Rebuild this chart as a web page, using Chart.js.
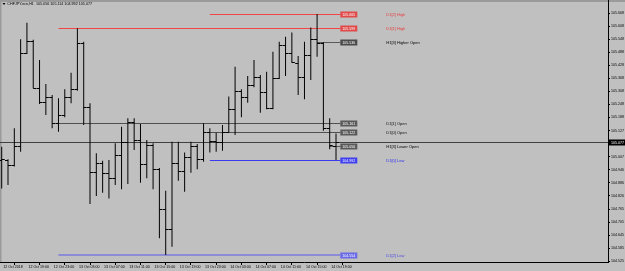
<!DOCTYPE html>
<html>
<head>
<meta charset="utf-8">
<script src="https://cdn.jsdelivr.net/npm/chart.js@4.4.0/dist/chart.umd.min.js"></script>
<style>
    html, body { margin: 0; padding: 0; background: #c0c0c0; overflow: hidden; }
</style>
</head>
<body>
<canvas id="chart" width="625" height="271"></canvas>
<script>
const title = "CHFJPY.ecn,H1  105.056 105.114 104.992 105.077";

// hourly bars, oldest first
const opens = [104.990, 104.992, 104.969, 105.056, 105.486, 105.542, 105.322, 105.261, 105.284, 105.161,
    105.199, 105.284, 105.318, 105.530, 105.235, 104.938, 104.977, 104.931, 104.908, 105.015,
    105.076, 105.168, 105.084, 104.973, 105.061, 104.949, 104.765, 104.672, 104.977, 104.943,
    105.007, 105.056, 104.995, 105.122, 105.081, 105.076, 105.122, 105.226, 105.311, 105.284,
    105.338, 105.376, 105.307, 105.230, 105.368, 105.522, 105.486, 105.440, 105.373, 105.476,
    105.548, 105.532, 105.138, 105.056];
const highs = [105.053, 104.995, 105.138, 105.548, 105.625, 105.546, 105.453, 105.342, 105.291, 105.276,
    105.318, 105.394, 105.599, 105.537, 105.253, 105.023, 104.989, 104.992, 105.069, 105.145,
    105.184, 105.184, 105.158, 105.084, 105.069, 104.955, 104.850, 105.076, 105.076, 105.026,
    105.076, 105.066, 105.161, 105.138, 105.118, 105.153, 105.284, 105.422, 105.318, 105.379,
    105.453, 105.384, 105.399, 105.491, 105.537, 105.560, 105.579, 105.471, 105.537, 105.603,
    105.665, 105.535, 105.184, 105.114];
const lows = [104.861, 104.877, 104.962, 105.030, 105.480, 105.322, 105.250, 105.199, 105.138, 105.122,
    105.189, 105.253, 105.311, 105.153, 104.789, 104.826, 104.841, 104.815, 104.877, 104.857,
    104.881, 105.038, 104.887, 104.908, 104.857, 104.631, 104.554, 104.592, 104.896, 104.846,
    104.933, 104.949, 104.984, 105.026, 105.030, 105.035, 105.118, 105.107, 105.189, 105.256,
    105.327, 105.210, 105.226, 105.226, 105.365, 105.379, 105.440, 105.291, 105.272, 105.361,
    105.468, 105.127, 105.041, 104.992];
const closes = [104.995, 104.969, 105.056, 105.486, 105.542, 105.326, 105.261, 105.284, 105.161, 105.199,
    105.284, 105.318, 105.530, 105.235, 104.938, 104.977, 104.931, 104.908, 105.015, 105.076,
    105.168, 105.084, 104.973, 105.061, 104.949, 104.765, 104.672, 104.977, 104.943, 105.007,
    105.056, 104.995, 105.122, 105.081, 105.076, 105.122, 105.226, 105.311, 105.284, 105.338,
    105.376, 105.307, 105.230, 105.368, 105.522, 105.486, 105.443, 105.373, 105.476, 105.548,
    105.532, 105.138, 105.061, 105.077];

// time axis: bar number -> label
const xTickBars = [1, 5, 9, 13, 17, 21, 25, 29, 33, 37, 41, 45, 49, 53];
const xTickLabels = ["12 Oct 2018", "12 Oct 19:00", "12 Oct 23:00", "13 Oct 03:00", "13 Oct 07:00",
    "13 Oct 11:00", "13 Oct 15:00", "13 Oct 19:00", "13 Oct 23:00", "14 Oct 03:00",
    "14 Oct 07:00", "14 Oct 11:00", "14 Oct 15:00", "14 Oct 19:00"];

const yTicks = [105.668, 105.608, 105.548, 105.488, 105.428, 105.368, 105.308, 105.248, 105.188, 105.127,
    105.067, 105.007, 104.946, 104.886, 104.826, 104.765, 104.705, 104.645, 104.585, 104.525];

// day / hour levels
const levelNames = ["D1[2] High", "D1[1] High", "H1[3] Higher Open", "D1[1] Open", "D1[0] Open",
    "H1[3] Lower Open", "D1[0] Low", "D1[2] Low"];
const levelPrices = [105.665, 105.599, 105.536, 105.161, 105.122, 105.056, 104.992, 104.554];
const levelFromBar = [34, 10, 51, 10, 34, 53, 34, 10];

// styling
const FONT = "'Liberation Sans', Arial, sans-serif";
const lineColors = ['#f04646', '#f04646', '#5a5a5a', '#505050', '#505050', '#5a5a5a', '#3a3af0', '#8c8cd6'];
const lineWidths = [1, 1, 1, 1, 1, 1, 1, 2];
const boxColors = ['#e04a4a', '#e04a4a', '#4a4a4a', '#5a5a5a', '#5a5a5a', '#5a5a5a', '#4040f0', '#6a6ae6'];
const textColors = ['#e83c3c', '#e83c3c', '#000000', '#101010', '#101010', '#000000', '#3030f0', '#4a4ae0'];

const ohlcPlugin = {
    id: 'ohlc',
    beforeDraw(chart) {
        const ctx = chart.ctx;
        ctx.save();
        ctx.fillStyle = '#c0c0c0';
        ctx.fillRect(0, 0, chart.width, chart.height);
        ctx.fillStyle = '#9a9a9a';
        ctx.fillRect(0, 0, chart.width, 2);
        ctx.fillRect(0, 0, 1.5, chart.chartArea.bottom);
        ctx.restore();
    },
    beforeDatasetsDraw(chart) {
        const ctx = chart.ctx;
        const xs = chart.scales.x, ys = chart.scales.y;
        const area = chart.chartArea;
        const boxLeft = xs.getPixelForValue(opens.length) + 4.3;
        ctx.save();
        levelPrices.forEach((p, i) => {
            const y = ys.getPixelForValue(p);
            const yy = lineWidths[i] === 1 ? Math.round(y) + 0.5 : Math.round(y);
            ctx.strokeStyle = lineColors[i];
            ctx.lineWidth = lineWidths[i];
            ctx.beginPath();
            ctx.moveTo(xs.getPixelForValue(levelFromBar[i]), yy);
            ctx.lineTo(boxLeft, yy);
            ctx.stroke();
        });
        // last price line
        const cy = Math.round(ys.getPixelForValue(closes[closes.length - 1])) + 0.5;
        ctx.strokeStyle = '#404040';
        ctx.lineWidth = 1;
        ctx.beginPath();
        ctx.moveTo(area.left, cy);
        ctx.lineTo(area.right, cy);
        ctx.stroke();
        ctx.restore();
    },
    afterDatasetsDraw(chart) {
        const ctx = chart.ctx;
        const xs = chart.scales.x, ys = chart.scales.y;
        ctx.save();
        ctx.fillStyle = '#000';
        for (let i = 0; i < opens.length; i++) {
            const x = xs.getPixelForValue(i + 1);
            ctx.fillRect(x - 3, Math.round(ys.getPixelForValue(opens[i])), 3, 1);
            ctx.fillRect(x, Math.round(ys.getPixelForValue(closes[i])), 3, 1);
        }
        ctx.restore();
    },
    afterDraw(chart) {
        const ctx = chart.ctx;
        const xs = chart.scales.x, ys = chart.scales.y;
        const area = chart.chartArea;
        const boxLeft = xs.getPixelForValue(opens.length) + 4.3;
        ctx.save();
        ctx.textBaseline = 'middle';
        levelPrices.forEach((p, i) => {
            const y = Math.round(ys.getPixelForValue(p)) + 0.5;
            ctx.fillStyle = boxColors[i];
            ctx.fillRect(boxLeft, y - 3, 17, 6);
            ctx.fillStyle = '#ffffff';
            ctx.font = '3.6px ' + FONT;
            ctx.textAlign = 'center';
            ctx.fillText(p.toFixed(3), boxLeft + 8.5, y + 0.3);
            ctx.fillStyle = textColors[i];
            ctx.font = '4px ' + FONT;
            ctx.textAlign = 'left';
            ctx.fillText(levelNames[i], boxLeft + 46, y + 0.3);
        });

        // last price marker on the axis
        const last = closes[closes.length - 1];
        const cy = Math.round(ys.getPixelForValue(last)) + 0.5;
        ctx.fillStyle = '#000';
        ctx.fillRect(area.right, cy - 3, chart.width - area.right, 6);
        ctx.fillStyle = '#fff';
        ctx.font = '3.6px ' + FONT;
        ctx.textAlign = 'left';
        ctx.fillText(last.toFixed(3), area.right + 3, cy + 0.3);

        // title
        ctx.fillStyle = '#000';
        ctx.beginPath();
        ctx.moveTo(2.5, 3);
        ctx.lineTo(5.5, 3);
        ctx.lineTo(4, 5);
        ctx.closePath();
        ctx.fill();
        ctx.font = '3.7px ' + FONT;
        ctx.fillText(title, 7.3, 4.4);
        ctx.restore();
    }
};

const ctx = document.getElementById('chart').getContext('2d');
new Chart(ctx, {
    type: 'bar',
    data: {
        datasets: [{
            label: 'H1',
            data: opens.map((o, i) => ({ x: i + 1, y: [lows[i], highs[i]] })),
            backgroundColor: '#000000',
            borderWidth: 0,
            barThickness: 1,
            inflateAmount: 0,
            grouped: false
        }]
    },
    options: {
        responsive: false,
        animation: false,
        devicePixelRatio: 1,
        layout: { padding: 0 },
        plugins: {
            legend: { display: false },
            tooltip: { enabled: false }
        },
        scales: {
            x: {
                type: 'linear',
                position: 'bottom',
                min: 0.7305,
                max: 97.12,
                offset: false,
                afterBuildTicks: s => { s.ticks = xTickBars.map(v => ({ value: v })); },
                afterFit: s => { s.height = 9; s.paddingLeft = 0; s.paddingRight = 0; },
                grid: { drawOnChartArea: false, drawTicks: true, tickLength: 3, color: '#000', lineWidth: 1 },
                border: { display: true, color: '#000', width: 1 },
                ticks: {
                    autoSkip: false, maxRotation: 0, minRotation: 0, align: 'start',
                    labelOffset: 1.5, padding: 0, color: '#000',
                    font: { family: FONT, size: 3.6 },
                    callback: (v, i) => xTickLabels[i]
                }
            },
            y: {
                type: 'linear',
                position: 'right',
                min: 104.5218,
                max: 105.7293,
                afterBuildTicks: s => { s.ticks = yTicks.map(v => ({ value: v })); },
                afterFit: s => { s.width = 17; s.paddingTop = 0; s.paddingBottom = 0; },
                grid: { drawOnChartArea: false, drawTicks: true, tickLength: 2, color: '#000' },
                border: { display: true, color: '#000', width: 1 },
                ticks: {
                    autoSkip: false, padding: 1, color: '#000',
                    font: { family: FONT, size: 3.6 },
                    callback: v => v.toFixed(3)
                }
            }
        }
    },
    plugins: [ohlcPlugin]
});
</script>
</body>
</html>
